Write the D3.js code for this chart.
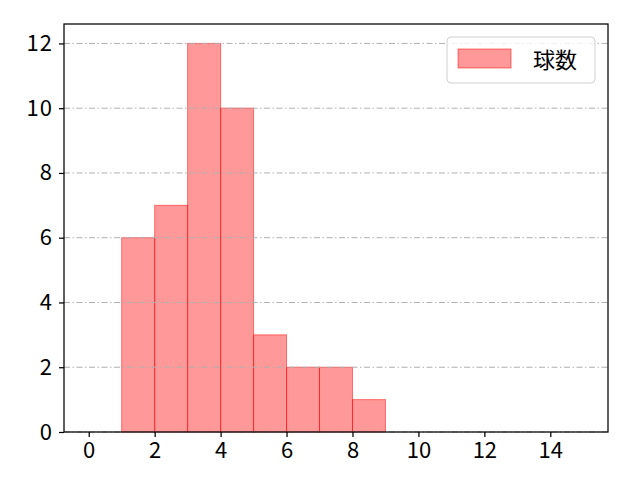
<!DOCTYPE html>
<html>
<head>
<meta charset="utf-8">
<script src="https://cdn.jsdelivr.net/npm/d3@7"></script>
<style>
  body { margin: 0; background: #fff; }
  text { font-family: "Noto Sans CJK JP", "Noto Sans", sans-serif; }
  .tick text { font-size: 22px; }
</style>
</head>
<body>
<svg id="chart" width="640" height="480"></svg>
<script>
// histogram bins (left edge, right edge) and counts
let binStarts = [1, 2, 3, 4, 5, 6, 7, 8];
let binEnds = [2, 3, 4, 5, 6, 7, 8, 9];
let counts = [6, 7, 12, 10, 3, 2, 2, 1];
let xTicks = [0, 2, 4, 6, 8, 10, 12, 14];
let yTicks = [0, 2, 4, 6, 8, 10, 12];
let seriesName = "球数";

let svg = d3.select("#chart");
let margin = {left: 64, right: 32, top: 24, bottom: 48};
let width = 640, height = 480;

let x = d3.scaleLinear().domain([-0.75, 15.75]).range([margin.left, width - margin.right]);
let y = d3.scaleLinear().domain([0, 12.6]).range([height - margin.bottom, margin.top]);

// bars
let bars = svg.append("g");
bars.selectAll("rect")
    .data(counts)
    .enter().append("rect")
    .attr("x", function (d, i) { return x(binStarts[i]); })
    .attr("y", function (d) { return y(d); })
    .attr("width", function (d, i) { return x(binEnds[i]) - x(binStarts[i]); })
    .attr("height", function (d) { return y(0) - y(d); })
    .attr("fill", "rgba(255,0,0,0.4)")
    .attr("stroke", "rgba(255,0,0,0.5)")
    .attr("stroke-width", 1);

// grid (horizontal only), dash-dot
svg.append("g")
    .selectAll("line")
    .data(yTicks)
    .enter().append("line")
    .attr("x1", x.range()[0])
    .attr("x2", x.range()[1])
    .attr("y1", function (d) { return y(d); })
    .attr("y2", function (d) { return y(d); })
    .attr("stroke", "#b0b0b0")
    .attr("stroke-width", 1)
    .attr("stroke-dasharray", "6,2.5,1.5,2.5");

// axes
let xAxis = d3.axisBottom(x).tickValues(xTicks).tickSize(5).tickPadding(5);
let yAxis = d3.axisLeft(y).tickValues(yTicks).tickSize(5).tickPadding(6);

let gx = svg.append("g")
    .attr("transform", "translate(0," + (height - margin.bottom) + ")")
    .call(xAxis);
let gy = svg.append("g")
    .attr("transform", "translate(" + margin.left + ",0)")
    .call(yAxis);

[gx, gy].forEach(function (g) {
    g.attr("font-size", null).attr("font-family", null);
    g.select(".domain").remove();
    g.selectAll(".tick line").attr("stroke", "#000").attr("stroke-width", 1.25);
    g.selectAll(".tick text").attr("fill", "#000");
});
gy.selectAll(".tick text").attr("letter-spacing", "1px");

// frame
svg.append("rect")
    .attr("x", x.range()[0])
    .attr("y", y.range()[1])
    .attr("width", x.range()[1] - x.range()[0])
    .attr("height", y.range()[0] - y.range()[1])
    .attr("fill", "none")
    .attr("stroke", "#000")
    .attr("stroke-width", 1.25);

// legend
let legend = svg.append("g").attr("transform", "translate(447,37)");
legend.append("rect")
    .attr("width", 148).attr("height", 46)
    .attr("rx", 4)
    .attr("fill", "rgba(255,255,255,0.8)")
    .attr("stroke", "#d0d0d0");
legend.append("rect")
    .attr("x", 11).attr("y", 12)
    .attr("width", 53).attr("height", 19)
    .attr("fill", "rgba(255,0,0,0.4)")
    .attr("stroke", "rgba(255,0,0,0.5)");
legend.append("text")
    .attr("x", 86).attr("y", 31)
    .style("font-size", "22px")
    .attr("fill", "#000")
    .text(seriesName);
</script>
</body>
</html>
